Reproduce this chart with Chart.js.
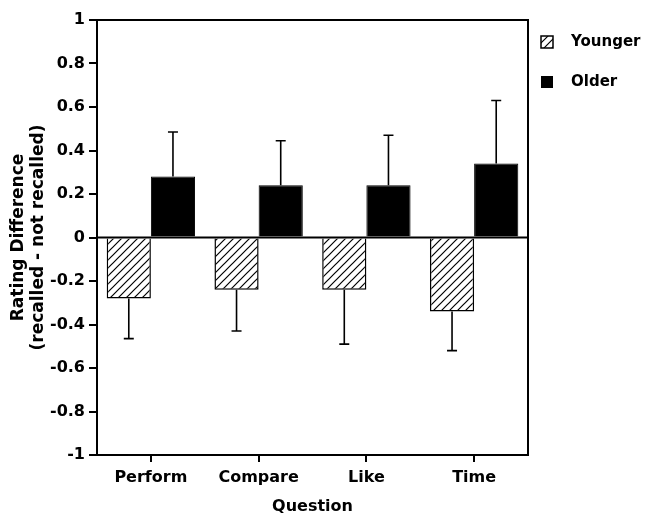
<!DOCTYPE html>
<html lang="en">
<head>
    <meta charset="UTF-8">
    <title>Rating Difference by Question</title>
    <script src="https://cdn.jsdelivr.net/npm/chart.js"></script>
    <style>
        html, body { margin: 0; padding: 0; background: #fff; }
        #wrap { width: 647px; height: 516px; position: relative; }
    </style>
</head>
<body>
    <div id="wrap"><canvas id="chart" width="647" height="516"></canvas></div>

    <script>
        // values
        const questions = ['Perform', 'Compare', 'Like', 'Time'];
        const younger = [-0.28, -0.24, -0.24, -0.34];
        const older = [0.28, 0.24, 0.24, 0.34];
        // error bar length (one-sided, away from zero)
        const youngerErr = [0.185, 0.19, 0.25, 0.18];
        const olderErr = [0.205, 0.205, 0.23, 0.29];
        const yTicks = [1, 0.8, 0.6, 0.4, 0.2, 0, -0.2, -0.4, -0.6, -0.8, -1];

        const FONT = '"DejaVu Sans", sans-serif';

        function hatch() {
            const c = document.createElement('canvas');
            c.width = 8; c.height = 8;
            const g = c.getContext('2d');
            g.fillStyle = '#fff';
            g.fillRect(0, 0, 8, 8);
            g.strokeStyle = '#000';
            g.lineWidth = 1.2;
            g.beginPath();
            g.moveTo(0, 8); g.lineTo(8, 0);
            g.moveTo(-2, 2); g.lineTo(2, -2);
            g.moveTo(6, 10); g.lineTo(10, 6);
            g.stroke();
            return g.createPattern(c, 'repeat');
        }
        const hatchFill = hatch();

        const extras = {
            id: 'extras',
            afterDatasetsDraw(chart) {
                const ctx = chart.ctx;
                const a = chart.chartArea;
                const y = chart.scales.y;
                ctx.save();
                ctx.strokeStyle = '#000';
                ctx.lineWidth = 1.6;
                // error bars
                [youngerErr, olderErr].forEach((errs, di) => {
                    const meta = chart.getDatasetMeta(di);
                    const vals = chart.data.datasets[di].data;
                    meta.data.forEach((bar, i) => {
                        const v = vals[i];
                        const end = v + Math.sign(v) * errs[i];
                        const yEnd = y.getPixelForValue(end);
                        ctx.beginPath();
                        ctx.moveTo(bar.x, bar.y);
                        ctx.lineTo(bar.x, yEnd);
                        ctx.moveTo(bar.x - 5, yEnd);
                        ctx.lineTo(bar.x + 5, yEnd);
                        ctx.stroke();
                    });
                });
                // zero line and box
                ctx.lineWidth = 2;
                const y0 = y.getPixelForValue(0);
                ctx.beginPath();
                ctx.moveTo(a.left, y0);
                ctx.lineTo(a.right, y0);
                ctx.moveTo(a.left, a.top);
                ctx.lineTo(a.right, a.top);
                ctx.lineTo(a.right, a.bottom);
                ctx.stroke();

                // legend
                ctx.font = 'bold 15px ' + FONT;
                ctx.textBaseline = 'middle';
                ctx.lineWidth = 1.5;
                ctx.fillStyle = hatchFill;
                ctx.fillRect(541, 36, 12, 12);
                ctx.strokeRect(541, 36, 12, 12);
                ctx.fillStyle = '#000';
                ctx.fillRect(541, 76, 12, 12);
                ctx.fillText('Younger', 571, 42);
                ctx.fillText('Older', 571, 82);
                ctx.restore();
            }
        };

        new Chart(document.getElementById('chart'), {
            type: 'bar',
            data: {
                labels: questions,
                datasets: [
                    {
                        label: 'Younger',
                        data: younger,
                        backgroundColor: hatchFill,
                        borderColor: '#000',
                        borderWidth: 1.5,
                        barPercentage: 1,
                        categoryPercentage: 0.82
                    },
                    {
                        label: 'Older',
                        data: older,
                        backgroundColor: '#000',
                        borderColor: '#000',
                        borderWidth: 1,
                        barPercentage: 1,
                        categoryPercentage: 0.82
                    }
                ]
            },
            options: {
                responsive: false,
                animation: false,
                events: [],
                layout: { padding: { top: 20, right: 119, left: 0, bottom: 0 } },
                plugins: {
                    legend: { display: false },
                    tooltip: { enabled: false }
                },
                scales: {
                    x: {
                        offset: true,
                        grid: { offset: false, drawOnChartArea: false, drawTicks: true, tickLength: 7, color: '#000', lineWidth: 2 },
                        border: { display: true, color: '#000', width: 2 },
                        ticks: { color: '#000', font: { family: FONT, size: 16, weight: 'bold' }, padding: 6, maxRotation: 0 },
                        title: { display: true, text: 'Question', color: '#000', font: { family: FONT, size: 16, weight: 'bold' }, padding: { top: 2, bottom: 0 } },
                        afterFit(s) { s.height = 61; }
                    },
                    y: {
                        min: -1,
                        max: 1,
                        afterBuildTicks(s) { s.ticks = yTicks.map(v => ({ value: v })); },
                        grid: { drawOnChartArea: false, drawTicks: true, tickLength: 8, color: '#000', lineWidth: 2 },
                        border: { display: true, color: '#000', width: 2 },
                        ticks: {
                            color: '#000',
                            font: { family: FONT, size: 16, weight: 'bold' },
                            padding: 4,
                            callback: v => String(v)
                        },
                        title: {
                            display: true,
                            text: ['Rating Difference', '(recalled - not recalled)'],
                            color: '#000',
                            font: { family: FONT, size: 17, weight: 'bold', lineHeight: 1.2 },
                            padding: { top: 8, bottom: 0 }
                        },
                        afterFit(s) { s.width = 97; }
                    }
                }
            },
            plugins: [extras]
        });
    </script>
</body>
</html>
